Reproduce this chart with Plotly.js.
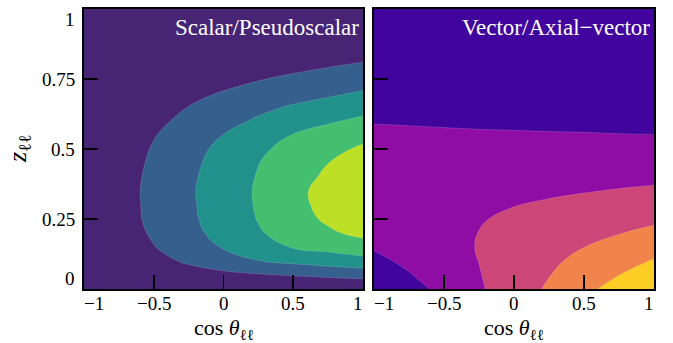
<!DOCTYPE html>
<html>
<head>
<meta charset="utf-8">
<script src="https://cdn.plot.ly/plotly-3.0.1.min.js"></script>
<style>
  html, body { margin: 0; padding: 0; background: #fff; }
  #chart { width: 673px; height: 343px; }
</style>
</head>
<body>
<div id="chart"></div>
<script>
// Grid of the two-dimensional dilepton distributions
const cosTheta = [-1, -0.75, -0.5, -0.25, 0, 0.25, 0.5, 0.75, 1];
const zLL = [0, 0.05, 0.1, 0.15, 0.2, 0.25, 0.3, 0.35, 0.4, 0.45, 0.5, 0.55, 0.6, 0.65, 0.7, 0.75, 0.8, 0.85, 0.9, 1];

// Scalar / pseudoscalar mediator (rows follow zLL, columns follow cosTheta)
const scalarDensity = [
  [0, 0, 0, 0, 0, 0, 0, 0, 0],
  [0.16, 0.31, 0.46, 0.61, 0.76, 0.91, 1.06, 1.21, 1.36],
  [0, 0.29, 0.71, 1.13, 1.55, 1.97, 2.22, 2.46, 2.69],
  [0, 0.41, 0.97, 1.52, 2.07, 2.59, 3.06, 3.31, 3.56],
  [0, 0.52, 1.12, 1.72, 2.31, 2.91, 3.39, 3.85, 4.25],
  [0, 0.59, 1.21, 1.82, 2.43, 3.04, 3.61, 4.15, 4.6],
  [0, 0.61, 1.23, 1.85, 2.48, 3.09, 3.7, 4.3, 4.9],
  [0, 0.62, 1.24, 1.87, 2.49, 3.11, 3.72, 4.36, 4.99],
  [0, 0.59, 1.21, 1.83, 2.45, 3.06, 3.61, 4.17, 4.75],
  [0, 0.54, 1.15, 1.76, 2.37, 2.98, 3.49, 3.99, 4.45],
  [0, 0.49, 1.07, 1.66, 2.24, 2.83, 3.3, 3.72, 4.15],
  [0, 0.42, 0.95, 1.47, 2.01, 2.53, 3.03, 3.38, 3.73],
  [0, 0.32, 0.78, 1.24, 1.7, 2.13, 2.51, 2.89, 3.2],
  [0, 0.25, 0.63, 1.01, 1.38, 1.76, 2.1, 2.37, 2.65],
  [0.02, 0.28, 0.54, 0.79, 1.05, 1.31, 1.57, 1.83, 2.09],
  [0, 0.1, 0.32, 0.53, 0.74, 0.95, 1.17, 1.38, 1.59],
  [0, 0, 0, 0.18, 0.36, 0.55, 0.73, 0.92, 1.1],
  [0, 0, 0, 0, 0.1, 0.2, 0.3, 0.45, 0.6],
  [0, 0, 0, 0, 0, 0.05, 0.1, 0.2, 0.3],
  [0, 0, 0, 0, 0, 0, 0, 0, 0]
];

// Vector / axial-vector mediator
const vectorDensity = [
  [0.02, 0.64, 1.27, 1.89, 2.51, 3.13, 3.76, 4.38, 5.0],
  [0.43, 0.94, 1.45, 1.96, 2.47, 2.97, 3.48, 3.99, 4.5],
  [0.78, 1.19, 1.6, 2.01, 2.42, 2.83, 3.24, 3.65, 4.06],
  [1.09, 1.41, 1.72, 2.04, 2.36, 2.67, 2.99, 3.3, 3.62],
  [1.29, 1.53, 1.77, 2.01, 2.25, 2.49, 2.73, 2.97, 3.21],
  [1.42, 1.6, 1.77, 1.95, 2.13, 2.3, 2.48, 2.65, 2.83],
  [1.47, 1.6, 1.72, 1.85, 1.98, 2.1, 2.23, 2.35, 2.48],
  [1.46, 1.54, 1.63, 1.71, 1.8, 1.88, 1.96, 2.05, 2.13],
  [1.41, 1.46, 1.51, 1.56, 1.62, 1.67, 1.72, 1.77, 1.82],
  [1.33, 1.36, 1.39, 1.41, 1.44, 1.47, 1.5, 1.52, 1.55],
  [1.23, 1.24, 1.24, 1.25, 1.26, 1.26, 1.27, 1.27, 1.28],
  [1.11, 1.1, 1.09, 1.07, 1.06, 1.05, 1.04, 1.02, 1.01],
  [0.97, 0.95, 0.92, 0.9, 0.88, 0.85, 0.83, 0.8, 0.78],
  [0.82, 0.79, 0.76, 0.73, 0.7, 0.67, 0.64, 0.61, 0.58],
  [0.67, 0.64, 0.61, 0.58, 0.55, 0.51, 0.48, 0.45, 0.42],
  [0.52, 0.49, 0.46, 0.43, 0.4, 0.37, 0.34, 0.31, 0.28],
  [0.38, 0.36, 0.33, 0.31, 0.28, 0.26, 0.23, 0.21, 0.18],
  [0.26, 0.24, 0.22, 0.2, 0.18, 0.16, 0.14, 0.12, 0.1],
  [0.16, 0.15, 0.13, 0.12, 0.1, 0.09, 0.07, 0.06, 0.04],
  [0, 0, 0, 0, 0, 0, 0, 0, 0]
];

// Contour levels and band colours
const levels = {start: 1, end: 4, size: 1};
const viridisBands = ['#482475', '#355f8d', '#21918c', '#44bf70', '#bddf26'];
const plasmaBands = ['#41049d', '#8f0da4', '#cc4778', '#f1844b', '#fcce25'];

// Tick positions and labels
const xTickVals = [-1, -0.5, 0, 0.5, 1];
const xTickText = ['−1', '−0.5', '0', '0.5', '1'];
const yTickVals = [0, 0.25, 0.5, 0.75, 1];
const yTickText = ['0', '0.25', '0.5', '0.75', '1'];

const panelTitles = ['Scalar/Pseudoscalar', 'Vector/Axial−vector'];
const xTitle = 'cos <i>θ</i><sub>ℓℓ</sub>';
const yTitle = '<i>z</i><sub>ℓℓ</sub>';

const SERIF = 'Liberation Serif, DejaVu Serif, serif';

function bandScale(cols) {
  return cols.map((c, i) => [i / (cols.length - 1), c]);
}

function contourTrace(zData, cols, xa, ya) {
  return {
    type: 'contour',
    x: cosTheta,
    y: zLL,
    z: zData,
    xaxis: xa,
    yaxis: ya,
    autocontour: false,
    contours: {start: levels.start, end: levels.end, size: levels.size, coloring: 'fill', showlines: true},
    line: {width: 0.6, color: 'rgba(255,255,255,0.25)', smoothing: 1.3},
    colorscale: bandScale(cols),
    showscale: false,
    hoverinfo: 'skip'
  };
}

const data = [
  contourTrace(scalarDensity, viridisBands, 'x', 'y'),
  contourTrace(vectorDensity, plasmaBands, 'x2', 'y2')
];

const xDomL = [84 / 673, 363 / 673];
const xDomR = [374 / 673, 654 / 673];
const yDom = [54 / 343, 334 / 343];

function axisStyle(extra) {
  return Object.assign({
    showline: true, mirror: true, linecolor: '#000', linewidth: 2,
    ticks: 'inside', ticklen: 14, tickwidth: 1.6, tickcolor: '#000',
    showgrid: false, zeroline: false, showticklabels: false, fixedrange: true
  }, extra);
}

const annotations = [];
const tickFont = {family: SERIF, size: 19, color: '#000'};

// x tick labels for both panels: the end labels hug the panel edges
['x', 'x2'].forEach(xa => {
  xTickVals.forEach((v, i) => {
    annotations.push({
      xref: xa, yref: 'paper', x: v, y: yDom[0], yanchor: 'top', yshift: -2,
      xanchor: i === 0 ? 'left' : (i === xTickVals.length - 1 ? 'right' : 'center'),
      xshift: i === 0 ? -2 : (i === xTickVals.length - 1 ? 2 : 0),
      text: xTickText[i], showarrow: false, font: tickFont
    });
  });
});

// y tick labels, left panel only
yTickVals.forEach((v, i) => {
  annotations.push({
    xref: 'paper', yref: 'y', x: xDomL[0], y: v, xanchor: 'right', xshift: -7,
    yanchor: i === 0 ? 'bottom' : (i === yTickVals.length - 1 ? 'top' : 'middle'),
    yshift: i === 0 ? -2 : (i === yTickVals.length - 1 ? 2 : 0),
    text: yTickText[i], showarrow: false, font: tickFont
  });
});

// Axis titles
[xDomL, xDomR].forEach(dom => {
  annotations.push({
    xref: 'paper', yref: 'paper', x: (dom[0] + dom[1]) / 2, y: 14 / 343,
    xanchor: 'center', yanchor: 'middle', text: xTitle, showarrow: false,
    font: {family: SERIF, size: 22, color: '#000'}
  });
});
annotations.push({
  xref: 'paper', yref: 'paper', x: 19 / 673, y: (yDom[0] + yDom[1]) / 2,
  xanchor: 'center', yanchor: 'middle', textangle: -90, text: yTitle, showarrow: false,
  font: {family: SERIF, size: 26, color: '#000'}
});

// Panel labels in the top right corners
[xDomL, xDomR].forEach((dom, i) => {
  annotations.push({
    xref: 'paper', yref: 'paper', x: dom[1], y: yDom[1], xanchor: 'right', yanchor: 'top',
    xshift: -2, yshift: -4, text: panelTitles[i], showarrow: false,
    font: {family: SERIF, size: 23, color: '#ffffff'}
  });
});

const layout = {
  width: 673, height: 343,
  margin: {l: 0, r: 0, t: 0, b: 0},
  paper_bgcolor: '#ffffff', plot_bgcolor: '#ffffff',
  showlegend: false,
  xaxis: axisStyle({domain: xDomL, range: [-1, 1], tickvals: xTickVals, anchor: 'y'}),
  yaxis: axisStyle({domain: yDom, range: [0, 1], tickvals: yTickVals, anchor: 'x'}),
  xaxis2: axisStyle({domain: xDomR, range: [-1, 1], tickvals: xTickVals, anchor: 'y2'}),
  yaxis2: axisStyle({domain: yDom, range: [0, 1], tickvals: yTickVals, anchor: 'x2'}),
  annotations: annotations
};

Plotly.newPlot('chart', data, layout, {displayModeBar: false, staticPlot: true});
</script>
</body>
</html>
